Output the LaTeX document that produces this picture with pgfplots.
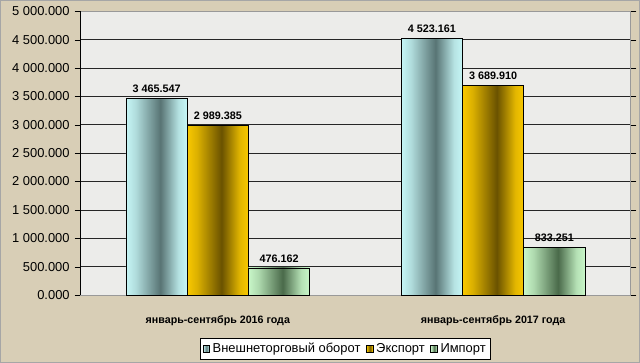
\documentclass[border=0pt]{standalone}
\usepackage{pgfplots}
\pgfplotsset{compat=1.18}
\usepackage{fontspec}
\setmainfont{Liberation Sans}
\definecolor{bgbeige}{HTML}{D8CEB6}
\definecolor{plotbg}{HTML}{ECECEA}
\definecolor{cyL}{HTML}{C6F6F6}
\definecolor{cyD}{HTML}{587474}
\definecolor{goL}{HTML}{F8C800}
\definecolor{goD}{HTML}{6A5200}
\definecolor{grL}{HTML}{C8F6C8}
\definecolor{grD}{HTML}{4A6A4A}
\pgfdeclarehorizontalshading{cyshade}{100bp}{color(0bp)=(cyL); color(25bp)=(cyL); color(33bp)=(cyL!80!cyD); color(53bp)=(cyD); color(68bp)=(cyL!85!cyD); color(75bp)=(cyL); color(100bp)=(cyL)}
\pgfdeclarehorizontalshading{goshade}{100bp}{color(0bp)=(goL); color(25bp)=(goL); color(33bp)=(goL!80!goD); color(53bp)=(goD); color(68bp)=(goL!85!goD); color(75bp)=(goL); color(100bp)=(goL)}
\pgfdeclarehorizontalshading{grshade}{100bp}{color(0bp)=(grL); color(25bp)=(grL); color(33bp)=(grL!80!grD); color(53bp)=(grD); color(68bp)=(grL!85!grD); color(75bp)=(grL); color(100bp)=(grL)}
\begin{document}
\begin{tikzpicture}
\path[use as bounding box, fill=bgbeige, draw=gray!70] (0,0) rectangle (16cm,9.05cm);
\begin{axis}[
  at={(2cm,1.675cm)}, anchor=south west,
  scale only axis, width=13.775cm, height=7.1cm,
  axis background/.style={fill=plotbg},
  axis line style={draw=gray!80},
  xmin=-0.5, xmax=1.5, ymin=0, ymax=5000,
  xtick={0,1},
  xticklabels={январь-сентябрь 2016 года, январь-сентябрь 2017 года},
  xticklabel style={font=\fontsize{7.6}{9}\selectfont\bfseries, yshift=-7pt},
  x tick style={draw=none},
  ytick={0,500,...,5000},
  ymajorgrids, grid style={black!85, line width=0.5pt},
  tick align=outside, major tick length=4pt,
  y tick style={black},
  yticklabel style={font=\fontsize{9.2}{11}\selectfont, /pgf/number format/.cd, fixed, fixed zerofill, precision=3, 1000 sep={\ }, assume math mode=true},
  scaled y ticks=false,
  nodes near coords, nodes near coords align={vertical},
  nodes near coords style={font=\fontsize{7.7}{9}\selectfont\bfseries, yshift=0.5pt, /pgf/number format/.cd, fixed, fixed zerofill, precision=3, 1000 sep={\ }, assume math mode=true},
  every axis plot/.append style={ybar, bar width=0.2225, bar shift=0pt, draw=black},
  legend style={at={(0.482,-0.19)}, anchor=center, legend columns=3, draw=black, fill=white, font=\fontsize{9.2}{11}\selectfont, inner sep=1.5pt, /tikz/every even column/.append style={column sep=2pt}},
  legend image code/.code={\draw[#1] (0cm,-0.08cm) rectangle (0.17cm,0.09cm);},
]
% 2016 group at x=0, 2017 group at x=1; bars offset by one bar width
\addplot[shading=cyshade] coordinates {(-0.2225,3465.547)};
\addplot[shading=goshade] coordinates {(0,2989.385)};
\addplot[shading=grshade] coordinates {(0.2225,476.162)};
\addplot[shading=cyshade, forget plot] coordinates {(0.7775,4523.161)};
\addplot[shading=goshade, forget plot] coordinates {(1,3689.910)};
\addplot[shading=grshade, forget plot] coordinates {(1.2225,833.251)};
\legend{Внешнеторговый оборот, Экспорт, Импорт}
\draw[black] (axis description cs:0,0) -- (axis description cs:0,1);
\end{axis}
\end{tikzpicture}
\end{document}
